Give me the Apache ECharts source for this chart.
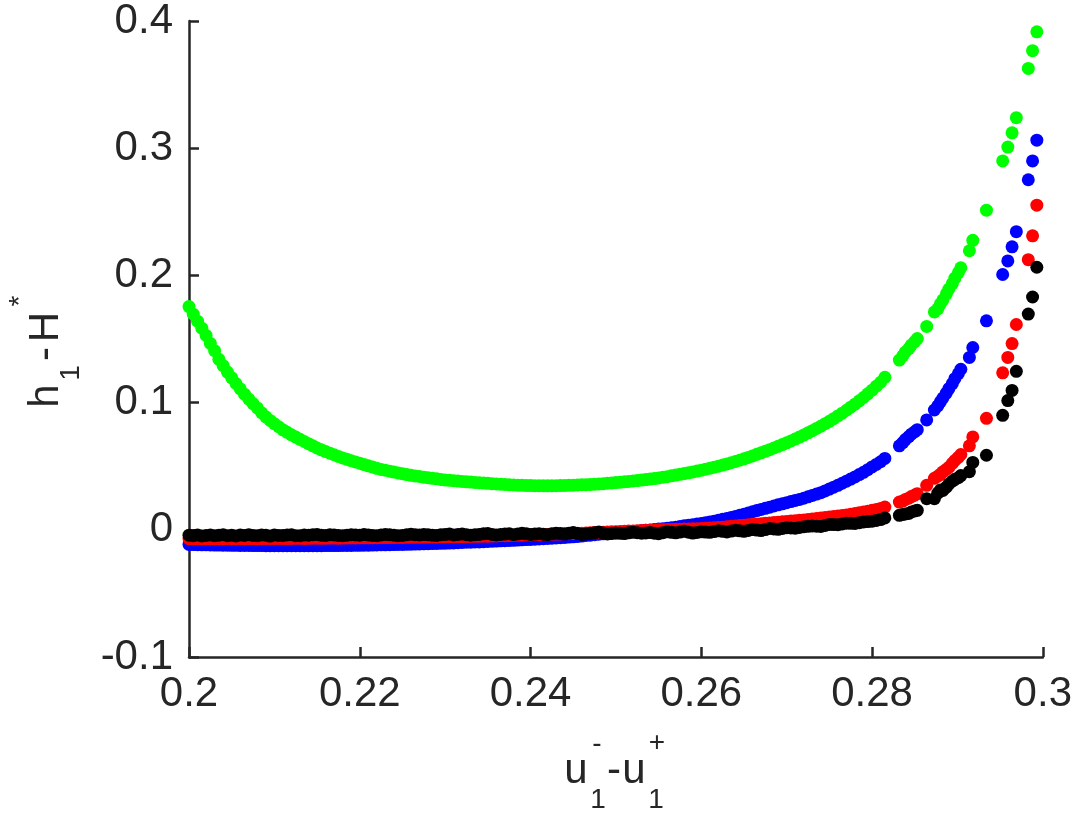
<!DOCTYPE html>
<html>
<head>
<meta charset="utf-8">
<title>h1-H* vs u1- - u1+</title>
<script src="https://cdn.jsdelivr.net/npm/echarts@6/dist/echarts.min.js"></script>
<style>
  html, body { margin: 0; padding: 0; background: #fff; }
  #main { width: 1075px; height: 815px; }
</style>
</head>
<body>
<div id="main"></div>
<script>
// shared x values (u1- - u1+): dense part in rows of 10, then the sparse tail
var xVals = [
  0.2000, 0.2005, 0.2010, 0.2015, 0.2020, 0.2025, 0.2030, 0.2035, 0.2040, 0.2045,
  0.2050, 0.2055, 0.2060, 0.2065, 0.2070, 0.2075, 0.2080, 0.2085, 0.2090, 0.2095,
  0.2100, 0.2105, 0.2110, 0.2115, 0.2120, 0.2125, 0.2130, 0.2135, 0.2140, 0.2145,
  0.2150, 0.2155, 0.2160, 0.2165, 0.2170, 0.2175, 0.2180, 0.2185, 0.2190, 0.2195,
  0.2200, 0.2205, 0.2210, 0.2215, 0.2220, 0.2225, 0.2230, 0.2235, 0.2240, 0.2245,
  0.2250, 0.2255, 0.2260, 0.2265, 0.2270, 0.2275, 0.2280, 0.2285, 0.2290, 0.2295,
  0.2300, 0.2305, 0.2310, 0.2315, 0.2320, 0.2325, 0.2330, 0.2335, 0.2340, 0.2345,
  0.2350, 0.2355, 0.2360, 0.2365, 0.2370, 0.2375, 0.2380, 0.2385, 0.2390, 0.2395,
  0.2400, 0.2405, 0.2410, 0.2415, 0.2420, 0.2425, 0.2430, 0.2435, 0.2440, 0.2445,
  0.2450, 0.2455, 0.2460, 0.2465, 0.2470, 0.2475, 0.2480, 0.2485, 0.2490, 0.2495,
  0.2500, 0.2505, 0.2510, 0.2515, 0.2520, 0.2525, 0.2530, 0.2535, 0.2540, 0.2545,
  0.2550, 0.2555, 0.2560, 0.2565, 0.2570, 0.2575, 0.2580, 0.2585, 0.2590, 0.2595,
  0.2600, 0.2605, 0.2610, 0.2615, 0.2620, 0.2625, 0.2630, 0.2635, 0.2640, 0.2645,
  0.2650, 0.2655, 0.2660, 0.2665, 0.2670, 0.2675, 0.2680, 0.2685, 0.2690, 0.2695,
  0.2700, 0.2705, 0.2710, 0.2715, 0.2720, 0.2725, 0.2730, 0.2735, 0.2740, 0.2745,
  0.2750, 0.2755, 0.2760, 0.2765, 0.2770, 0.2775, 0.2780, 0.2785, 0.2790, 0.2795,
  0.2800, 0.2805, 0.2810, 0.2815,
  0.2832, 0.2836, 0.2839, 0.2843, 0.2846, 0.2850, 0.2853, 0.2864, 0.2873, 0.2877,
  0.2880, 0.2883, 0.2887, 0.2890, 0.2894, 0.2897, 0.2901, 0.2904, 0.2914, 0.2918,
  0.2934, 0.2953, 0.2959, 0.2964, 0.2969, 0.2983, 0.2988, 0.2993
];

var greenVals = [
  0.1755, 0.1695, 0.1640, 0.1585, 0.1528, 0.1465, 0.1408, 0.1340, 0.1290, 0.1240,
  0.1195, 0.1150, 0.1108, 0.1066, 0.1028, 0.0992, 0.0958, 0.0920, 0.0888, 0.0860,
  0.0834, 0.0810, 0.0786, 0.0766, 0.0747, 0.0729, 0.0711, 0.0694, 0.0677, 0.0660,
  0.0643, 0.0629, 0.0615, 0.0602, 0.0590, 0.0577, 0.0565, 0.0554, 0.0543, 0.0533,
  0.0523, 0.0513, 0.0503, 0.0493, 0.0483, 0.0475, 0.0468, 0.0461, 0.0454, 0.0447,
  0.0441, 0.0434, 0.0428, 0.0423, 0.0419, 0.0414, 0.0410, 0.0405, 0.0401, 0.0396,
  0.0392, 0.0389, 0.0386, 0.0383, 0.0380, 0.0377, 0.0375, 0.0372, 0.0370, 0.0367,
  0.0365, 0.0363, 0.0361, 0.0358, 0.0356, 0.0354, 0.0352, 0.0351, 0.0350, 0.0349,
  0.0348, 0.0347, 0.0347, 0.0346, 0.0346, 0.0346, 0.0347, 0.0348, 0.0349, 0.0350,
  0.0351, 0.0352, 0.0354, 0.0355, 0.0357, 0.0359, 0.0361, 0.0363, 0.0366, 0.0368,
  0.0371, 0.0374, 0.0377, 0.0380, 0.0384, 0.0387, 0.0391, 0.0395, 0.0399, 0.0403,
  0.0408, 0.0413, 0.0418, 0.0424, 0.0430, 0.0436, 0.0442, 0.0448, 0.0455, 0.0462,
  0.0469, 0.0476, 0.0484, 0.0492, 0.0500, 0.0509, 0.0518, 0.0527, 0.0537, 0.0547,
  0.0558, 0.0569, 0.0581, 0.0593, 0.0605, 0.0617, 0.0630, 0.0643, 0.0656, 0.0670,
  0.0684, 0.0698, 0.0713, 0.0729, 0.0745, 0.0762, 0.0779, 0.0797, 0.0815, 0.0834,
  0.0853, 0.0874, 0.0895, 0.0917, 0.0940, 0.0964, 0.0988, 0.1014, 0.1040, 0.1069,
  0.1098, 0.1129, 0.1160, 0.1199,
  0.1334, 0.1367, 0.1398, 0.1425, 0.1452, 0.1480, 0.1503, 0.1599, 0.1713, 0.1737,
  0.1776, 0.1807, 0.1854, 0.1893, 0.1935, 0.1978, 0.2021, 0.2060, 0.2194, 0.2276,
  0.2513, 0.2900, 0.3009, 0.3121, 0.3240, 0.3627, 0.3767, 0.3915
];

var blueVals = [
  -0.0115, -0.0116, -0.0117, -0.0118, -0.0118, -0.0119, -0.0120, -0.0120, -0.0121, -0.0121,
  -0.0122, -0.0122, -0.0123, -0.0123, -0.0123, -0.0124, -0.0124, -0.0124, -0.0125, -0.0125,
  -0.0125, -0.0125, -0.0125, -0.0125, -0.0125, -0.0125, -0.0125, -0.0125, -0.0125, -0.0125,
  -0.0125, -0.0125, -0.0124, -0.0124, -0.0124, -0.0124, -0.0123, -0.0123, -0.0123, -0.0122,
  -0.0122, -0.0121, -0.0121, -0.0120, -0.0119, -0.0118, -0.0118, -0.0117, -0.0116, -0.0115,
  -0.0115, -0.0114, -0.0113, -0.0112, -0.0111, -0.0110, -0.0109, -0.0108, -0.0107, -0.0106,
  -0.0105, -0.0104, -0.0103, -0.0101, -0.0100, -0.0098, -0.0097, -0.0096, -0.0095, -0.0093,
  -0.0092, -0.0090, -0.0089, -0.0087, -0.0086, -0.0084, -0.0083, -0.0081, -0.0079, -0.0077,
  -0.0076, -0.0074, -0.0072, -0.0070, -0.0068, -0.0066, -0.0064, -0.0062, -0.0060, -0.0057,
  -0.0055, -0.0052, -0.0049, -0.0045, -0.0042, -0.0038, -0.0035, -0.0032, -0.0030, -0.0027,
  -0.0025, -0.0022, -0.0020, -0.0017, -0.0015, -0.0011, -0.0008, -0.0004, -0.0001, 0.0002,
  0.0006, 0.0009, 0.0012, 0.0016, 0.0021, 0.0026, 0.0031, 0.0035, 0.0040, 0.0045,
  0.0050, 0.0056, 0.0062, 0.0068, 0.0075, 0.0082, 0.0089, 0.0097, 0.0105, 0.0114,
  0.0123, 0.0132, 0.0142, 0.0151, 0.0160, 0.0169, 0.0178, 0.0187, 0.0196, 0.0204,
  0.0213, 0.0222, 0.0231, 0.0239, 0.0248, 0.0259, 0.0270, 0.0281, 0.0292, 0.0306,
  0.0320, 0.0335, 0.0350, 0.0366, 0.0382, 0.0399, 0.0416, 0.0434, 0.0452, 0.0473,
  0.0494, 0.0514, 0.0535, 0.0561,
  0.0660, 0.0685, 0.0709, 0.0732, 0.0752, 0.0771, 0.0787, 0.0864, 0.0942, 0.0974,
  0.1005, 0.1036, 0.1075, 0.1110, 0.1149, 0.1188, 0.1227, 0.1262, 0.1355, 0.1433,
  0.1643, 0.2007, 0.2114, 0.2225, 0.2344, 0.2752, 0.2900, 0.3063
];

var redVals = [
  -0.0070, -0.0071, -0.0070, -0.0071, -0.0070, -0.0070, -0.0071, -0.0070, -0.0070, -0.0069,
  -0.0070, -0.0070, -0.0069, -0.0070, -0.0069, -0.0069, -0.0070, -0.0069, -0.0068, -0.0069,
  -0.0068, -0.0068, -0.0068, -0.0069, -0.0068, -0.0067, -0.0067, -0.0068, -0.0067, -0.0066,
  -0.0066, -0.0067, -0.0066, -0.0065, -0.0065, -0.0066, -0.0065, -0.0064, -0.0064, -0.0064,
  -0.0063, -0.0063, -0.0063, -0.0062, -0.0062, -0.0061, -0.0061, -0.0061, -0.0060, -0.0060,
  -0.0060, -0.0059, -0.0059, -0.0058, -0.0058, -0.0057, -0.0057, -0.0056, -0.0056, -0.0055,
  -0.0055, -0.0054, -0.0054, -0.0053, -0.0053, -0.0052, -0.0052, -0.0051, -0.0051, -0.0050,
  -0.0050, -0.0049, -0.0048, -0.0047, -0.0046, -0.0045, -0.0044, -0.0043, -0.0042, -0.0041,
  -0.0040, -0.0039, -0.0038, -0.0037, -0.0036, -0.0035, -0.0034, -0.0033, -0.0032, -0.0031,
  -0.0030, -0.0028, -0.0027, -0.0025, -0.0024, -0.0022, -0.0021, -0.0019, -0.0018, -0.0016,
  -0.0015, -0.0013, -0.0012, -0.0010, -0.0009, -0.0007, -0.0006, -0.0004, -0.0003, -0.0001,
  0.0000, 0.0001, 0.0002, 0.0003, 0.0004, 0.0005, 0.0006, 0.0007, 0.0008, 0.0009,
  0.0010, 0.0012, 0.0014, 0.0016, 0.0019, 0.0021, 0.0024, 0.0027, 0.0030, 0.0033,
  0.0036, 0.0039, 0.0042, 0.0045, 0.0048, 0.0051, 0.0054, 0.0057, 0.0060, 0.0063,
  0.0066, 0.0069, 0.0072, 0.0075, 0.0078, 0.0081, 0.0085, 0.0088, 0.0092, 0.0096,
  0.0100, 0.0104, 0.0108, 0.0112, 0.0117, 0.0122, 0.0128, 0.0134, 0.0140, 0.0146,
  0.0153, 0.0160, 0.0168, 0.0179,
  0.0218, 0.0226, 0.0238, 0.0249, 0.0261, 0.0273, 0.0284, 0.0350, 0.0405, 0.0421,
  0.0436, 0.0456, 0.0475, 0.0491, 0.0522, 0.0545, 0.0569, 0.0592, 0.0660, 0.0730,
  0.0876, 0.1234, 0.1355, 0.1464, 0.1614, 0.2124, 0.2311, 0.2552
];

var blackVals = [
  -0.0042, -0.0046, -0.0040, -0.0048, -0.0044, -0.0041, -0.0047, -0.0043, -0.0039, -0.0046,
  -0.0042, -0.0048, -0.0041, -0.0045, -0.0038, -0.0044, -0.0047, -0.0040, -0.0043, -0.0049,
  -0.0041, -0.0044, -0.0045, -0.0040, -0.0039, -0.0047, -0.0046, -0.0041, -0.0042, -0.0038,
  -0.0036, -0.0043, -0.0044, -0.0039, -0.0040, -0.0045, -0.0047, -0.0042, -0.0038, -0.0041,
  -0.0043, -0.0037, -0.0040, -0.0044, -0.0046, -0.0041, -0.0037, -0.0039, -0.0042, -0.0047,
  -0.0045, -0.0039, -0.0035, -0.0038, -0.0041, -0.0036, -0.0038, -0.0042, -0.0044, -0.0039,
  -0.0036, -0.0034, -0.0040, -0.0037, -0.0033, -0.0039, -0.0043, -0.0038, -0.0037, -0.0032,
  -0.0030, -0.0036, -0.0041, -0.0037, -0.0034, -0.0031, -0.0039, -0.0033, -0.0028, -0.0032,
  -0.0036, -0.0034, -0.0031, -0.0035, -0.0038, -0.0032, -0.0027, -0.0030, -0.0034, -0.0028,
  -0.0022, -0.0030, -0.0036, -0.0033, -0.0029, -0.0023, -0.0018, -0.0026, -0.0033, -0.0029,
  -0.0025, -0.0028, -0.0030, -0.0024, -0.0019, -0.0023, -0.0027, -0.0025, -0.0022, -0.0027,
  -0.0031, -0.0023, -0.0016, -0.0020, -0.0024, -0.0018, -0.0012, -0.0019, -0.0026, -0.0021,
  -0.0016, -0.0018, -0.0020, -0.0014, -0.0008, -0.0012, -0.0017, -0.0010, -0.0004, -0.0008,
  -0.0012, -0.0005, 0.0002, -0.0002, -0.0006, 0.0002, 0.0010, 0.0007, 0.0004, 0.0010,
  0.0016, 0.0014, 0.0012, 0.0018, 0.0024, 0.0027, 0.0030, 0.0028, 0.0026, 0.0034,
  0.0042, 0.0041, 0.0040, 0.0046, 0.0052, 0.0051, 0.0050, 0.0056, 0.0062, 0.0065,
  0.0068, 0.0074, 0.0080, 0.0093,
  0.0114, 0.0121, 0.0125, 0.0129, 0.0140, 0.0148, 0.0153, 0.0244, 0.0244, 0.0288,
  0.0312, 0.0309, 0.0335, 0.0361, 0.0382, 0.0397, 0.0409, 0.0426, 0.0457, 0.0530,
  0.0586, 0.0900, 0.1016, 0.1096, 0.1246, 0.1696, 0.1830, 0.2064
];

var xTicks = { min: 0.2, max: 0.3, step: 0.02 };
var yTicks = { min: -0.1, max: 0.4, step: 0.1 };

var myChart = echarts.init(document.getElementById('main'));

function pairs(ys) {
  return xVals.map(function (x, i) { return [x, ys[i]]; });
}

var axisColor = '#262626';
var fontFam = '"Liberation Sans", Arial, Helvetica, sans-serif';

function dotSeries(name, color, ys) {
  return {
    name: name,
    type: 'scatter',
    symbol: 'circle',
    symbolSize: 13,
    itemStyle: { color: color, opacity: 1 },
    emphasis: { disabled: true },
    data: pairs(ys)
  };
}

function axisStyle() {
  return {
    axisLine: { show: true, onZero: false, lineStyle: { color: axisColor, width: 2.5 } },
    axisTick: { show: true, inside: true, length: 10, lineStyle: { color: axisColor, width: 2.5 } },
    splitLine: { show: false },
    axisLabel: { color: axisColor, fontSize: 42, fontFamily: fontFam }
  };
}

var xAxisOpt = axisStyle();
xAxisOpt.type = 'value';
xAxisOpt.min = xTicks.min;
xAxisOpt.max = xTicks.max;
xAxisOpt.interval = xTicks.step;
xAxisOpt.axisLabel.margin = 16;

var yAxisOpt = axisStyle();
yAxisOpt.type = 'value';
yAxisOpt.min = yTicks.min;
yAxisOpt.max = yTicks.max;
yAxisOpt.interval = yTicks.step;
yAxisOpt.axisLabel.margin = 16;

function txt(x, y, s, size) {
  return {
    type: 'text',
    x: x, y: y,
    style: {
      text: s, fill: axisColor, fontSize: size, fontFamily: fontFam,
      align: 'center', verticalAlign: 'middle'
    }
  };
}

let option = {
  animation: false,
  backgroundColor: '#ffffff',
  grid: { left: 189, right: 28, top: 15, bottom: 158, containLabel: false },
  xAxis: xAxisOpt,
  yAxis: yAxisOpt,
  series: [
    dotSeries('green', '#00ff00', greenVals),
    dotSeries('blue', '#0000ff', blueVals),
    dotSeries('red', '#ff0000', redVals),
    dotSeries('black', '#000000', blackVals)
  ],
  graphic: [
    // x axis title: u1^- - u1^+
    {
      type: 'group', x: 576, y: 771,
      children: [
        txt(0, 0, 'u', 42),
        txt(21, -27, '-', 28),
        txt(22, 29, '1', 28),
        txt(38, 0, '-', 42),
        txt(58, 0, 'u', 42),
        txt(81, -28, '+', 28),
        txt(80, 29, '1', 28)
      ]
    },
    // y axis title: h1 - H^*
    {
      type: 'group', x: 46, y: 396, rotation: Math.PI / 2,
      children: [
        txt(0, 0, 'h', 42),
        txt(23, 25, '1', 28),
        txt(42, 0, '-', 42),
        txt(69, 0, 'H', 42),
        txt(95, -26, '*', 28)
      ]
    }
  ]
};

myChart.setOption(option);
window.addEventListener('resize', function () {
  myChart.resize();
});
</script>
</body>
</html>
